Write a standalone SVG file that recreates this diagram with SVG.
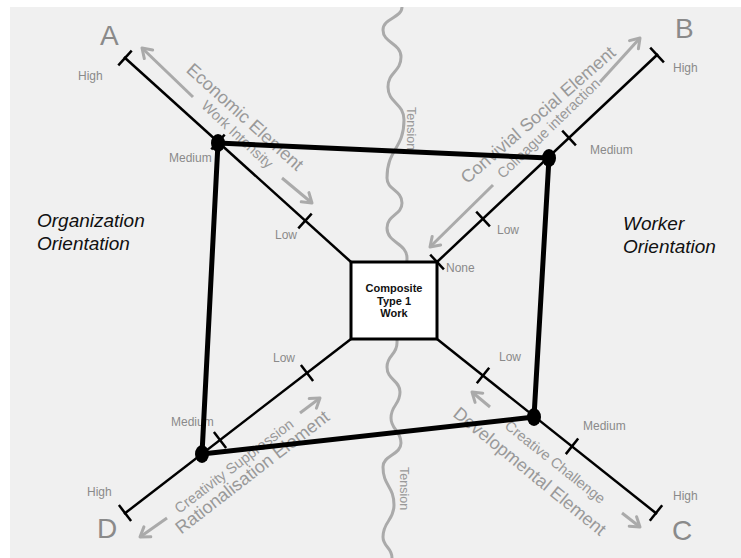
<svg xmlns="http://www.w3.org/2000/svg" width="741" height="558" viewBox="0 0 741 558">
  <style>
    text { font-family: "Liberation Sans", Arial, sans-serif; }
    .axis { stroke: #000; stroke-width: 2.5; fill: none; }
    .tick { stroke: #000; stroke-width: 2.5; }
    .lvl { font-size: 12px; fill: #8a8a8a; }
    .letter { font-size: 28px; fill: #8a8a8a; }
    .elem { font-size: 18px; fill: #999; }
    .sub { font-size: 14.5px; fill: #999; }
    .orient { font-size: 19px; font-style: italic; fill: #111; }
    .garrow { stroke: #aaa; stroke-width: 3; fill: none; marker-end: url(#chev); }
    .frame { stroke: #000; stroke-width: 5; fill: none; stroke-linejoin: round; }
    .dot { fill: #000; }
  </style>
  <defs>
    <marker id="chev" viewBox="-12 -8 14 16" markerWidth="14" markerHeight="16" markerUnits="userSpaceOnUse" orient="auto" refX="0" refY="0">
      <path d="M-9,-6 L0,0 L-9,6" fill="none" stroke="#aaa" stroke-width="3" stroke-linecap="round" stroke-linejoin="round"/>
    </marker>
  </defs>

  <!-- panel background -->
  <rect x="0" y="0" width="741" height="558" fill="#fff"/>
  <rect x="10" y="7" width="731" height="551" fill="#f0f0f0"/>

  <!-- wavy tension divider -->
  <g id="tension">
    <path d="M402,7 C402,18 383,18 383,30 C383,43 401,43 401,57 C401,72 388,72 388,87 C388,103 404,103 404,120 C404,149 387,149 387,178 C387,190 402,190 402,203 C402,215 387,215 387,228 C387,243 407,243 407,258 C407,300 397,300 397,343 C397,355 387,355 387,367 C387,380 400,380 400,392 C400,405 391,405 391,418 C391,430 401,430 401,443 C401,455 383,455 383,467 C383,486 394,486 394,505 C394,521 383,521 383,537 C383,547 392,547 392,558" fill="none" stroke="#aaa" stroke-width="3"/>
    <text x="407" y="107" transform="rotate(90 407 107)" style="font-size:12.5px; fill:#999;">Tension</text>
    <text x="400" y="467" transform="rotate(90 400 467)" style="font-size:12.5px; fill:#999;">Tension</text>
  </g>

  <!-- axis A -->
  <g id="axis-a">
    <line class="axis" x1="351" y1="262" x2="124" y2="57"/>
    <line class="tick" x1="118.3" y1="65.4" x2="131.7" y2="50.6"/>
    <line class="tick" x1="211.3" y1="149.4" x2="224.7" y2="134.6"/>
    <line class="tick" x1="298.3" y1="228.4" x2="311.7" y2="213.6"/>
    <text class="letter" x="100" y="45">A</text>
    <text class="lvl" x="78" y="80">High</text>
    <text class="lvl" x="169" y="162">Medium</text>
    <text class="lvl" x="275" y="239">Low</text>
  </g>

  <!-- axis B -->
  <g id="axis-b">
    <line class="axis" x1="437" y1="262" x2="658" y2="54"/>
    <line class="tick" x1="650.2" y1="47.7" x2="663.9" y2="62.3"/>
    <line class="tick" x1="562.2" y1="130.7" x2="575.9" y2="145.3"/>
    <line class="tick" x1="476.2" y1="211.7" x2="489.9" y2="226.3"/>
    <line class="tick" x1="430.2" y1="254.7" x2="443.9" y2="269.3"/>
    <text class="letter" x="675" y="38">B</text>
    <text class="lvl" x="673" y="72">High</text>
    <text class="lvl" x="590" y="154">Medium</text>
    <text class="lvl" x="497" y="234">Low</text>
    <text class="lvl" x="446" y="272">None</text>
  </g>

  <!-- axis C -->
  <g id="axis-c">
    <line class="axis" x1="437" y1="339" x2="657" y2="514"/>
    <line class="tick" x1="649.8" y1="520.8" x2="662.2" y2="505.2"/>
    <line class="tick" x1="565.8" y1="454.1" x2="578.2" y2="438.5"/>
    <line class="tick" x1="476.8" y1="383.3" x2="489.2" y2="367.7"/>
    <text class="letter" x="672" y="540">C</text>
    <text class="lvl" x="673" y="500">High</text>
    <text class="lvl" x="583" y="430">Medium</text>
    <text class="lvl" x="499" y="361">Low</text>
  </g>

  <!-- axis D -->
  <g id="axis-d">
    <line class="axis" x1="351" y1="339" x2="124" y2="514"/>
    <line class="tick" x1="118.9" y1="505.1" x2="131.1" y2="520.9"/>
    <line class="tick" x1="213.9" y1="432.1" x2="226.1" y2="447.9"/>
    <line class="tick" x1="300.9" y1="365.1" x2="313.1" y2="380.9"/>
    <text class="letter" x="97" y="538">D</text>
    <text class="lvl" x="87" y="496">High</text>
    <text class="lvl" x="171" y="426">Medium</text>
    <text class="lvl" x="273" y="362">Low</text>
  </g>

  <!-- element captions and direction arrows -->
  <g id="elements">
    <text class="elem" text-anchor="middle" transform="translate(241 121.5) rotate(42)">Economic Element</text>
    <text class="sub" text-anchor="middle" transform="translate(234 138) rotate(43)">Work Intensity</text>
    <text class="elem" text-anchor="middle" transform="translate(542 119.5) rotate(-41)">Convivial Social Element</text>
    <text class="sub" text-anchor="middle" transform="translate(552 132) rotate(-44)">Colleague interaction</text>
    <text class="elem" text-anchor="middle" transform="translate(256 477) rotate(-37.7)">Rationalisation Element</text>
    <text class="sub" text-anchor="middle" transform="translate(237 470) rotate(-37.3)">Creativity Suppression</text>
    <text class="elem" text-anchor="middle" transform="translate(526 476) rotate(39.3)">Developmental Element</text>
    <text class="sub" text-anchor="middle" transform="translate(552 466) rotate(38.5)">Creative Challenge</text>
    <path class="garrow" d="M193,97 L142,48"/>
    <path class="garrow" d="M282,178 L312,203"/>
    <path class="garrow" d="M600,82 L640,38"/>
    <path class="garrow" d="M493,185 L430,247"/>
    <path class="garrow" d="M300,413 L320,398"/>
    <path class="garrow" d="M167,518 L140,537"/>
    <path class="garrow" d="M490,407 L472,392"/>
    <path class="garrow" d="M622,513 L640,527"/>
  </g>

  <!-- orientation captions -->
  <g id="org-orientation">
    <text class="orient" x="37" y="227">Organization</text>
    <text class="orient" x="37" y="250">Orientation</text>
  </g>
  <g id="worker-orientation">
    <text class="orient" x="623" y="230">Worker</text>
    <text class="orient" x="623" y="253">Orientation</text>
  </g>

  <!-- profile polygon connecting the four scores -->
  <g id="connectors">
    <path class="frame" d="M218,143 L549,158 L534,417 L202,454 Z"/>
  </g>

  <g id="score-a"><ellipse class="dot" cx="218" cy="143" rx="7" ry="9"/></g>
  <g id="score-b"><ellipse class="dot" cx="549" cy="158" rx="7" ry="9"/></g>
  <g id="score-c"><ellipse class="dot" cx="534" cy="417" rx="7" ry="9"/></g>
  <g id="score-d"><ellipse class="dot" cx="202" cy="454" rx="7" ry="9"/></g>

  <!-- central node -->
  <g id="composite">
    <rect x="351" y="262" width="86" height="77" fill="#fff" stroke="#000" stroke-width="3"/>
    <text x="394" y="292" text-anchor="middle" style="font-size:11px; font-weight:bold; fill:#111;">Composite</text>
    <text x="394" y="304.5" text-anchor="middle" style="font-size:11px; font-weight:bold; fill:#111;">Type 1</text>
    <text x="394" y="317" text-anchor="middle" style="font-size:11px; font-weight:bold; fill:#111;">Work</text>
  </g>
</svg>
